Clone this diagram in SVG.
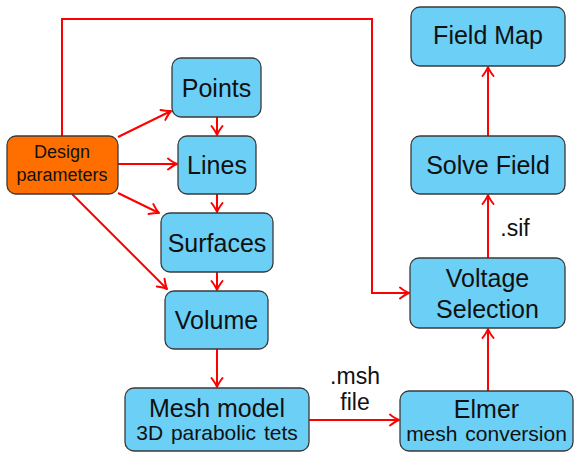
<svg xmlns="http://www.w3.org/2000/svg" width="574" height="453" viewBox="0 0 574 453">
  <style>
    .box { fill: #6bcff6; stroke: #3a3a3a; stroke-width: 1.3; }
    .design { fill: #ff6f00; stroke: #3a3a3a; stroke-width: 1.3; }
    .t { font-family: "Liberation Sans", Arial, sans-serif; fill: #111; text-anchor: middle; }
    .big { font-size: 25px; }
    .sub { font-size: 21px; word-spacing: 2px; }
    .small { font-size: 18px; }
    .lbl { font-size: 23px; }
    .edge { fill: none; stroke: #ff0000; stroke-width: 2; marker-end: url(#arr); }
  </style>
  <defs>
    <marker id="arr" viewBox="-12 -7 14 14" markerWidth="14" markerHeight="14" refX="0" refY="0" orient="auto" markerUnits="userSpaceOnUse">
      <path d="M-9,-5.5 Q-3.5,-1.3 0,0 Q-3.5,1.3 -9,5.5" fill="none" stroke="#ff0000" stroke-width="2" stroke-linecap="round" stroke-linejoin="round"/>
    </marker>
  </defs>
  <rect width="574" height="453" fill="#ffffff"/>

  <!-- connectors -->
  <g id="edges">
    <line class="edge" x1="118" y1="137" x2="171" y2="111"/>
    <line class="edge" x1="118" y1="164" x2="177" y2="164"/>
    <line class="edge" x1="118" y1="193" x2="159" y2="213"/>
    <line class="edge" x1="72" y1="194" x2="167" y2="289"/>
    <line class="edge" x1="217" y1="117" x2="217" y2="135"/>
    <line class="edge" x1="217" y1="194" x2="217" y2="212"/>
    <line class="edge" x1="217" y1="272" x2="217" y2="290"/>
    <line class="edge" x1="217" y1="349" x2="217" y2="387"/>
    <line class="edge" x1="309" y1="420" x2="399" y2="420"/>
    <line class="edge" x1="488" y1="391" x2="488" y2="329"/>
    <line class="edge" x1="488" y1="258" x2="488" y2="195"/>
    <line class="edge" x1="488" y1="136" x2="488" y2="67"/>
    <polyline class="edge" points="62,136 62,19 372,19 372,293 409,293"/>
    <text class="t lbl" x="355" y="384">.msh</text>
    <text class="t lbl" x="355" y="410">file</text>
    <text class="t lbl" x="515" y="236">.sif</text>
  </g>

  <g id="design">
    <rect class="design" x="7" y="136" width="111" height="58" rx="9"/>
    <text class="t small" x="62" y="158">Design</text>
    <text class="t small" x="62" y="181">parameters</text>
  </g>
  <g id="points">
    <rect class="box" x="172" y="58" width="89" height="59" rx="9"/>
    <text class="t big" x="216.5" y="97">Points</text>
  </g>
  <g id="lines">
    <rect class="box" x="178" y="136" width="78" height="58" rx="9"/>
    <text class="t big" x="217" y="174">Lines</text>
  </g>
  <g id="surfaces">
    <rect class="box" x="161" y="213" width="112" height="59" rx="9"/>
    <text class="t big" x="217" y="252">Surfaces</text>
  </g>
  <g id="volume">
    <rect class="box" x="165" y="291" width="103" height="58" rx="9"/>
    <text class="t big" x="216.5" y="329">Volume</text>
  </g>
  <g id="mesh">
    <rect class="box" x="125" y="388" width="184" height="63" rx="9"/>
    <text class="t big" x="217" y="417">Mesh model</text>
    <text class="t sub" x="217" y="440">3D parabolic tets</text>
  </g>
  <g id="elmer">
    <rect class="box" x="400" y="391" width="173" height="60" rx="9"/>
    <text class="t big" x="486.5" y="418">Elmer</text>
    <text class="t sub" x="486.5" y="441">mesh conversion</text>
  </g>
  <g id="voltage">
    <rect class="box" x="410" y="258" width="155" height="70" rx="9"/>
    <text class="t big" x="487.5" y="287">Voltage</text>
    <text class="t big" x="487.5" y="318">Selection</text>
  </g>
  <g id="solve">
    <rect class="box" x="411" y="136" width="154" height="58" rx="9"/>
    <text class="t big" x="488" y="174">Solve Field</text>
  </g>
  <g id="fieldmap">
    <rect class="box" x="411" y="7" width="154" height="59" rx="9"/>
    <text class="t big" x="488" y="44">Field Map</text>
  </g>
</svg>
